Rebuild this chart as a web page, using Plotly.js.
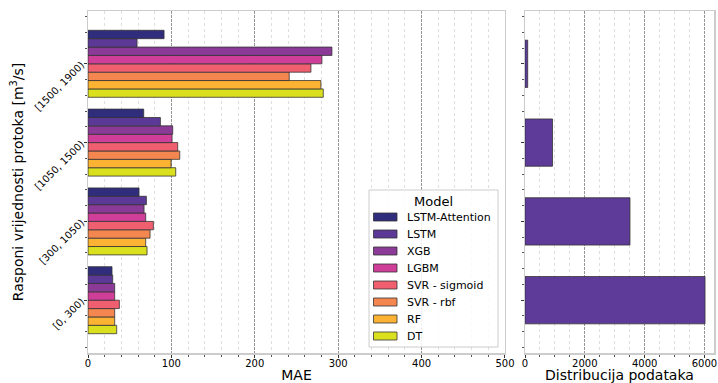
<!DOCTYPE html>
<html>
<head>
<meta charset="utf-8">
<script src="https://cdn.plot.ly/plotly-3.0.1.min.js"></script>
<style>html,body{margin:0;padding:0;background:#fff;}#chart{width:718px;height:383px;}</style>
</head>
<body>
<div id="chart"></div>
<script>
// Categories (bottom to top)
const categories = ["[0, 300)", "[300, 1050)", "[1050, 1500)", "[1500, 1900)"];
const models = ["LSTM-Attention", "LSTM", "XGB", "LGBM", "SVR - sigmoid", "SVR - rbf", "RF", "DT"];
const colors = ["#302d7d", "#5d3997", "#8b3b97", "#cf3f99", "#ef5f70", "#f4864f", "#fcb233", "#dbe01e"];

// MAE per model, per category (same order as categories)
const maeLstmAttention = [28.8, 61.2, 66.8, 91.2];
const maeLstm          = [29.6, 70.0, 86.8, 58.8];
const maeXgb           = [32.0, 67.2, 101.6, 292.5];
const maeLgbm          = [32.0, 69.2, 100.8, 280.5];
const maeSvrSigmoid    = [37.6, 78.4, 107.6, 267.3];
const maeSvrRbf        = [32.0, 74.4, 110.0, 241.3];
const maeRf            = [32.0, 69.2, 99.6, 279.3];
const maeDt            = [34.4, 70.8, 105.2, 282.1];
const maeSeries = [maeLstmAttention, maeLstm, maeXgb, maeLgbm, maeSvrSigmoid, maeSvrRbf, maeRf, maeDt];

// Data distribution per category
const dataCounts = [6020, 3510, 920, 90];

const yIdx = categories.map((c, i) => i);
const font = "DejaVu Sans, sans-serif";

const traces = [];
for (let k = models.length - 1; k >= 0; k--) {
  traces.push({
    type: "bar", orientation: "h",
    name: models[k], x: maeSeries[k], y: yIdx,
    hoverinfo: "x+name", showlegend: false,
    marker: {color: colors[k], line: {color: "#333333", width: 0.8}},
    xaxis: "x", yaxis: "y"
  });
}
traces.push({
  type: "bar", orientation: "h", name: "Distribucija", showlegend: false,
  x: dataCounts, y: yIdx, width: 0.6,
  marker: {color: "#5e3a99", line: {color: "#333333", width: 0.8}},
  xaxis: "x2", yaxis: "y2"
});

// Plot area geometry in pixels (for legend placement)
const W = 718, H = 383, ML = 88, MR = 4, MT = 11, MB = 30;
const px = v => (v - ML) / (W - ML - MR);
const py = v => (H - MB - v) / (H - MT - MB);

// Manual legend (wide swatches like the reference)
const shapes = [];
const annotations = [];
shapes.push({type: "rect", xref: "paper", yref: "paper", layer: "above",
  x0: px(369), x1: px(498), y0: py(347), y1: py(190),
  fillcolor: "rgba(255,255,255,0.85)", line: {color: "#cccccc", width: 1}});
annotations.push({xref: "paper", yref: "paper", x: px(433.5), y: py(201), text: "Model",
  showarrow: false, xanchor: "center", yanchor: "middle", font: {size: 13, family: font, color: "#000"}});
models.forEach((m, i) => {
  const cy = 217 + i * 17;
  shapes.push({type: "rect", xref: "paper", yref: "paper", layer: "above",
    x0: px(373.5), x1: px(397), y0: py(cy + 4), y1: py(cy - 4),
    fillcolor: colors[i], line: {color: "#333333", width: 0.8}});
  annotations.push({xref: "paper", yref: "paper", x: px(405), y: py(cy), text: m,
    showarrow: false, xanchor: "left", yanchor: "middle", font: {size: 11, family: font, color: "#000"}});
});

const gridMajor = {showgrid: true, gridcolor: "#7a7a7a", griddash: "3px,1px", gridwidth: 0.8};
const spine = {showline: true, linecolor: "#cccccc", linewidth: 1.5, mirror: true, zeroline: false};

const layout = {
  width: W, height: H,
  margin: {l: ML, r: MR, t: MT, b: MB},
  paper_bgcolor: "#ffffff", plot_bgcolor: "#ffffff",
  font: {family: font, color: "#000000", size: 10},
  barmode: "group", bargap: 0.15, bargroupgap: 0,
  xaxis: Object.assign({
    domain: [0, 0.6661], range: [0, 500], dtick: 100, tick0: 0,
    ticks: "outside", ticklen: 3, tickcolor: "#333",
    tickfont: {size: 10}, ticklabelstandoff: -3,
    minor: {dtick: 20, showgrid: true, gridcolor: "#d6d6d6", griddash: "dot", gridwidth: 0.8, ticks: "outside", ticklen: 2, tickcolor: "#555"},
    title: {text: "MAE", font: {size: 14}, standoff: 5},
    automargin: false, ticklabeloverflow: "allow"
  }, gridMajor, spine),
  yaxis: Object.assign({
    domain: [0, 1], range: [-0.67, 3.67],
    tickvals: yIdx, ticktext: categories, tickangle: -45,
    ticks: "outside", ticklen: 3, tickcolor: "#333",
    tickfont: {size: 10},
    showgrid: false,
    minor: {dtick: 0.2, tick0: 0, ticks: "outside", ticklen: 2, tickcolor: "#555", showgrid: false},
    title: {text: "Rasponi vrijednosti protoka [m<sup>3</sup>/s]", font: {size: 14}, standoff: 6},
    automargin: false
  }, spine),
  xaxis2: Object.assign({
    domain: [0.6981, 1], range: [0, 6320], dtick: 2000, tick0: 0, anchor: "y2",
    ticks: "outside", ticklen: 3, tickcolor: "#333",
    tickfont: {size: 10}, ticklabelstandoff: -3,
    minor: {dtick: 500, showgrid: true, gridcolor: "#d6d6d6", griddash: "dot", gridwidth: 0.8, ticks: "outside", ticklen: 2, tickcolor: "#555"},
    title: {text: "Distribucija podataka", font: {size: 14}, standoff: 5},
    automargin: false, ticklabeloverflow: "allow"
  }, gridMajor, spine),
  yaxis2: Object.assign({
    anchor: "x2", matches: "y", range: [-0.67, 3.67],
    tickvals: yIdx, showticklabels: false,
    ticks: "outside", ticklen: 3, tickcolor: "#333",
    showgrid: false,
    minor: {dtick: 0.2, tick0: 0, ticks: "outside", ticklen: 2, tickcolor: "#555", showgrid: false}
  }, spine),
  shapes: shapes,
  annotations: annotations,
  showlegend: false
};

Plotly.newPlot("chart", traces, layout, {displayModeBar: false, staticPlot: true});
</script>
</body>
</html>
